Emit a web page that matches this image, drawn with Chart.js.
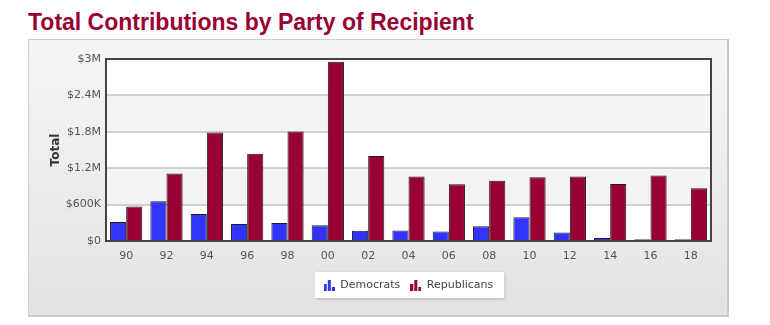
<!DOCTYPE html>
<html>
<head>
<meta charset="utf-8">
<script src="https://cdn.jsdelivr.net/npm/chart.js@4/dist/chart.umd.min.js"></script>
<style>
  body { margin: 0; background: #fff; width: 770px; height: 325px; position: relative; overflow: hidden; }
  h2 {
    position: absolute; left: 28px; top: 9px; margin: 0; line-height: 1;
    font: bold 23px "Liberation Sans", Arial, sans-serif; color: #990033;
  }
  .chart-box {
    position: absolute; left: 28px; top: 39px; width: 698px; height: 275px;
    border: 1px solid #cfcfcf; border-right: 2px solid #c9c9c9; border-bottom: 2px solid #c9c9c9;
    background: linear-gradient(#f5f5f5, #e3e3e3);
  }
  #contrib { position: absolute; left: 0; top: 0; }
</style>
</head>
<body>
<h2>Total Contributions by Party of Recipient</h2>
<div class="chart-box"><canvas id="contrib" width="698" height="275"></canvas></div>
<script>
const cycles = ['90','92','94','96','98','00','02','04','06','08','10','12','14','16','18'];
const democrats = [315000, 657000, 445000, 282000, 298000, 261000, 168000, 172000, 157000, 245000, 391000, 140000, 49000, 28000, 28000];
const republicans = [570000, 1114000, 1789000, 1440000, 1805000, 2956000, 1402000, 1065000, 934000, 995000, 1050000, 1065000, 939000, 1080000, 869000];
const yTickLabels = ['$0', '$600K', '$1.2M', '$1.8M', '$2.4M', '$3M'];

// little bar-chart icon for the legend
function legendIcon(color){
    const c = document.createElement('canvas');
    c.width = 11; c.height = 11;
    const g = c.getContext('2d');
    g.fillStyle = color;
    g.fillRect(0, 4, 3, 7);
    g.fillRect(4, 0, 3, 11);
    g.fillRect(8, 7, 3, 4);
    return c;
}

// bands behind the grid, white box behind the legend, frame round the plot
const backdrop = {
    id: 'backdrop',
    afterLayout(chart){
        // center the legend under the plot instead of the whole canvas
        const lg = chart.legend, area = chart.chartArea;
        lg.left = area.left;
        lg.right = area.right;
        lg.width = area.right - area.left;
    },
    beforeDraw(chart){
        const ctx = chart.ctx, area = chart.chartArea, y = chart.scales.y;
        ctx.save();
        ctx.fillStyle = '#fff';
        ctx.fillRect(area.left, area.top, area.right - area.left, area.bottom - area.top);
        ctx.fillStyle = '#f3f3f3';
        y.ticks.forEach((t, i) => {
            if (i % 2 == 1 && i < y.ticks.length - 1) {
                const top = y.getPixelForValue(y.ticks[i + 1].value);
                const bot = y.getPixelForValue(t.value);
                ctx.fillRect(area.left, top, area.right - area.left, bot - top);
            }
        });
        const lg = chart.legend;
        const boxes = lg.legendHitBoxes;
        if (boxes && boxes.length) {
            const pad = lg.options.labels.padding;
            const start = (lg.left + pad + lg.right - lg.lineWidths[0]) / 2;
            const l = start - 9;
            const r = start + lg.lineWidths[0] - pad + 11;
            const t = boxes[0].top - 8;
            const h = boxes[0].height + 15;
            ctx.shadowColor = 'rgba(0,0,0,0.25)';
            ctx.shadowBlur = 3;
            ctx.shadowOffsetX = 1;
            ctx.shadowOffsetY = 1;
            ctx.fillStyle = '#fff';
            ctx.fillRect(l, t, r - l, h);
        }
        ctx.restore();
    },
    afterDatasetsDraw(chart){
        const ctx = chart.ctx, area = chart.chartArea;
        ctx.save();
        ctx.strokeStyle = '#444';
        ctx.lineWidth = 2;
        ctx.strokeRect(area.left, area.top, area.right - area.left, area.bottom - area.top);
        ctx.restore();
    }
};

const ctx = document.getElementById('contrib').getContext('2d');
const contribChart = new Chart(ctx, {
    type: 'bar',
    data: {
        labels: cycles,
        datasets: [
            {
                label: 'Democrats',
                data: democrats,
                backgroundColor: '#3333ff',
                borderColor: '#1e1e1e',
                borderWidth: 1,
                pointStyle: legendIcon('#3333ff'),
                categoryPercentage: 0.8,
                barPercentage: 1,
            },
            {
                label: 'Republicans',
                data: republicans,
                backgroundColor: '#990033',
                borderColor: '#1e1e1e',
                borderWidth: 1,
                pointStyle: legendIcon('#990033'),
                categoryPercentage: 0.8,
                barPercentage: 1,
            }
        ]
    },
    options: {
        responsive: false,
        animation: false,
        layout: { padding: { left: 0, top: 19, right: 16, bottom: 14 } },
        plugins: {
            tooltip: { enabled: false },
            legend: {
                position: 'bottom',
                labels: {
                    usePointStyle: true,
                    color: '#444',
                    font: { family: 'DejaVu Sans', size: 11 },
                    padding: 10,
                    boxHeight: 11,
                }
            }
        },
        scales: {
            x: {
                grid: { display: false, drawTicks: false },
                border: { display: false },
                ticks: { color: '#555', font: { family: 'DejaVu Sans', size: 11 }, padding: 9 },
                afterFit(scale){ scale.height = 29; }
            },
            y: {
                min: 0,
                max: 3000000,
                grid: { color: '#d0d0d0', lineWidth: 2, drawTicks: false },
                border: { display: false },
                ticks: {
                    stepSize: 600000,
                    color: '#555',
                    font: { family: 'DejaVu Sans', size: 11 },
                    padding: 5,
                    callback: (v, i) => yTickLabels[i]
                },
                title: {
                    display: true,
                    text: 'Total',
                    color: '#333',
                    font: { family: 'DejaVu Sans', size: 12, weight: 'bold' },
                    padding: { top: 20, bottom: 0 }
                },
                afterFit(scale){ scale.width = 77; }
            }
        }
    },
    plugins: [backdrop]
});
</script>
</body>
</html>
